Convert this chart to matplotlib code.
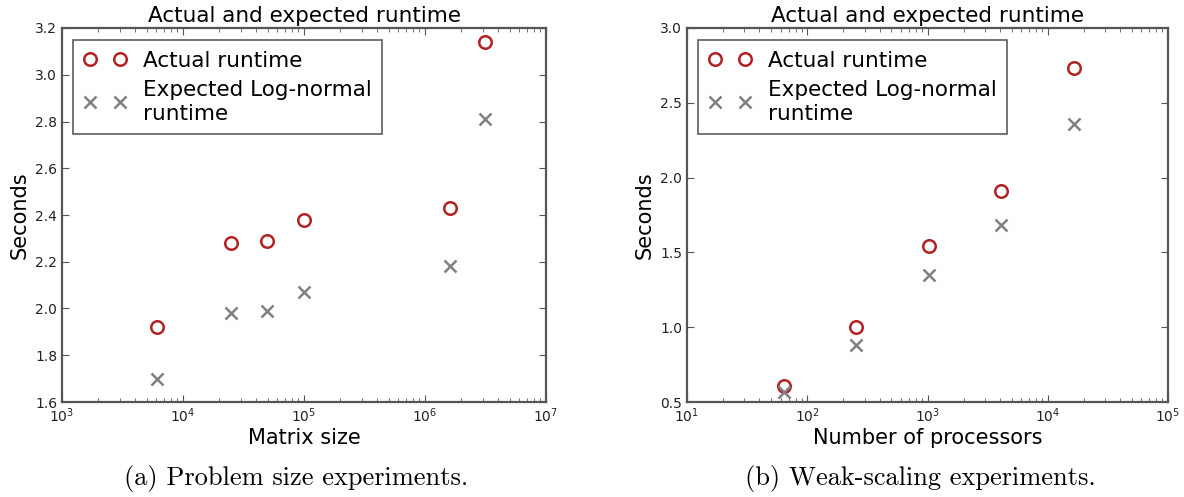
import matplotlib

matplotlib.use("Agg")
import matplotlib.pyplot as plt

# (a) problem size experiments
matrix_size = [6100, 25000, 49000, 100000, 1.6e6, 3.15e6]
actual_a = [1.92, 2.28, 2.29, 2.38, 2.43, 3.14]
expected_a = [1.70, 1.98, 1.99, 2.07, 2.18, 2.81]

# (b) weak-scaling experiments
processors = [64, 256, 1024, 4096, 16384]
actual_b = [0.61, 1.00, 1.54, 1.91, 2.73]
expected_b = [0.57, 0.88, 1.35, 1.68, 2.36]

RED = "#b22222"
GRAY = "#808080"
SPINE = "#555555"


def draw_panel(ax, x, actual, expected, xlabel, xlim, ylim, yticks):
    ax.plot(x, actual, linestyle="none", marker="o", markersize=9, markerfacecolor="none",
            markeredgecolor=RED, markeredgewidth=1.8, label="Actual runtime")
    ax.plot(x, expected, linestyle="none", marker="x", markersize=9,
            markeredgecolor=GRAY, markeredgewidth=1.8, label="Expected Log-normal\nruntime")
    ax.set_xscale("log")
    ax.set_xlim(*xlim)
    ax.set_ylim(*ylim)
    ax.set_yticks(yticks)
    ax.set_yticklabels([f"{t:.1f}" for t in yticks])
    ax.tick_params(which="both", direction="in", top=True, right=True, labelsize=10,
                   colors="#222222")
    ax.tick_params(which="major", length=5, color=SPINE)
    ax.tick_params(which="minor", length=3, color=SPINE)
    for s in ax.spines.values():
        s.set_color(SPINE)
        s.set_linewidth(1.6)
    ax.set_title("Actual and expected runtime", fontsize=15.5, pad=4)
    ax.set_xlabel(xlabel, fontsize=15, labelpad=2)
    ax.set_ylabel("Seconds", fontsize=15, labelpad=4)
    leg = ax.legend(loc="upper left", bbox_to_anchor=(0.022, 0.968), numpoints=2,
                    fontsize=15.5, fancybox=False, handlelength=2.0, handletextpad=0.75,
                    borderaxespad=0, labelspacing=0.45, borderpad=0.5)
    leg.get_frame().set_edgecolor("#333333")
    leg.get_frame().set_linewidth(1.2)


fig = plt.figure(figsize=(11.84, 4.97), dpi=100)
ax1 = fig.add_axes([62 / 1184, 95 / 497, 484 / 1184, 374 / 497])
ax2 = fig.add_axes([687 / 1184, 95 / 497, 481 / 1184, 374 / 497])

draw_panel(ax1, matrix_size, actual_a, expected_a, "Matrix size", (1e3, 1e7), (1.6, 3.2),
           [1.6, 1.8, 2.0, 2.2, 2.4, 2.6, 2.8, 3.0, 3.2])
draw_panel(ax2, processors, actual_b, expected_b, "Number of processors", (1e1, 1e5), (0.5, 3.0),
           [0.5, 1.0, 1.5, 2.0, 2.5, 3.0])

fig.text(296 / 1184, 1 - 478 / 497, "(a) Problem size experiments.", family="cmr10",
         fontsize=19, ha="center", va="center")
fig.text(920 / 1184, 1 - 478 / 497, "(b) Weak-scaling experiments.", family="cmr10",
         fontsize=19, ha="center", va="center")

fig.savefig("out.png", dpi=100)
plt.close(fig)
